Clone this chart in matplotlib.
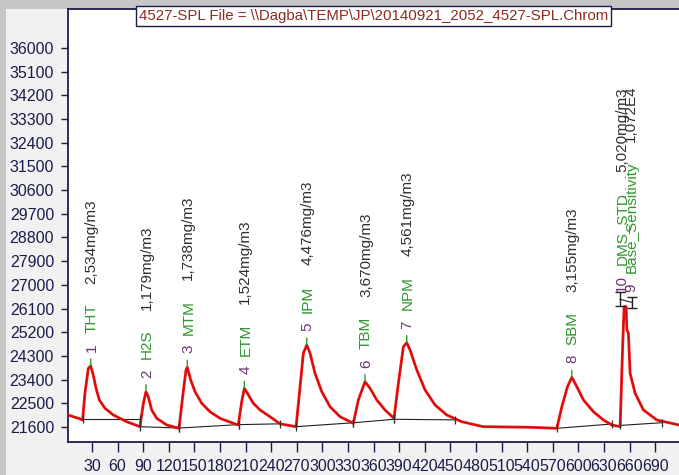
import numpy as np
import matplotlib
matplotlib.use("Agg")
import matplotlib.pyplot as plt
from matplotlib.patches import Rectangle

plt.rcParams['font.family'] = ['Liberation Sans', 'DejaVu Sans']

# chromatogram trace (time, signal)
trace_t = [2, 14, 19, 21.8, 25.7, 28.5, 31.5, 34.7, 38.6, 45.3, 55, 70.7, 86.3,
           90.2, 93.3, 96, 100, 105.9, 117.6, 132,
           136.3, 140.2, 141.7, 145.7, 150.8, 158.6, 168.3, 180, 195.7, 201.5,
           205.5, 208.6, 213.3, 219.1, 227, 238.7, 250.4, 269.2,
           273.9, 277.7, 281.7, 285.6, 291.4, 299.3, 309, 320.7, 336.3,
           342.2, 350, 355.9, 363.8, 373.5, 384,
           389.1, 395, 398.9, 402.8, 410.7, 420.4, 432.1, 445.8, 463.4, 488.7,
           543.6, 574.8, 580.7, 587.3, 592.4, 598.3, 606, 617.7, 629.4, 639.2, 649,
           652.2, 653.7, 656, 656.9, 658.7, 660.7, 666.6, 676.3, 692, 718]
trace_v = [22056, 21930, 21866, 22892, 23830, 23918, 23576, 23082, 22626, 22310, 22056, 21800, 21612,
           22500, 22941, 22751, 22246, 21930, 21676, 21550,
           22751, 23766, 23868, 23386, 22941, 22500, 22181, 21930, 21740, 21676,
           22561, 23070, 22816, 22500, 22246, 21991, 21720, 21612,
           23131, 24400, 24715, 24400, 23640, 22941, 22371, 21991, 21740,
           22626, 23321, 23070, 22626, 22246, 21930,
           23260, 24651, 24803, 24526, 23766, 23006, 22436, 22056, 21800, 21612,
           21589, 21550, 22371, 23131, 23488, 23131, 22626, 22181, 21866, 21676, 21612,
           24905, 26171, 26171, 25285, 25160, 23640, 22880, 22246, 21866, 21676]

# integration baselines (start/end of each segment)
base_t0 = [19, 86, 132, 202, 269, 336, 384, 575, 649]
base_v0 = [21893, 21612, 21560, 21690, 21612, 21760, 21893, 21550, 21660]
base_t1 = [86, 132, 202, 250, 336, 384, 456, 639, 698]
base_v1 = [21893, 21560, 21690, 21720, 21760, 21893, 21870, 21714, 21763]

# peak labels
peak_num = ['1', '2', '3', '4', '5', '6', '7', '8', '10', '9']
peak_name = ['THT', 'H2S', 'MTM', 'ETM', 'IPM', 'TBM', 'NPM', 'SBM', 'DMS_STD', 'Base_Sensitivity']
peak_conc = ['2,534mg/m3', '1,179mg/m3', '1,738mg/m3', '1,524mg/m3', '4,476mg/m3',
             '3,670mg/m3', '4,561mg/m3', '3,155mg/m3', '5,020mg/m3', '1,072E4']
label_t = [28.5, 93.3, 141.7, 208.6, 281.7, 350, 398.9, 592.4, 650, 661]
label_v = [23918, 22941, 23868, 23070, 24715, 23321, 24803, 23488, 26200, 26200]

# the two I-shaped markers on peak 9/10
imark_t = [649, 663]
imark_v = [26450, 26330]
imark_err = [260, 220]

title = r'4527-SPL File = \\Dagba\TEMP\JP\20140921_2052_4527-SPL.Chrom'

navy = '#1c1c4a'
fig = plt.figure(figsize=(6.79, 4.75), dpi=100, facecolor='#c6c6c6')
panel = Rectangle((6 / 679, 0), 1, (475 - 9) / 475, transform=fig.transFigure,
                  facecolor='#f1f1f1', edgecolor='none', zorder=-10)
fig.add_artist(panel)
ax = fig.add_axes([68 / 679, 33 / 475, 1 - 68 / 679, (442 - 9) / 475])
ax.set_zorder(1)
ax.set_facecolor('white')

ax.plot(trace_t, trace_v, color='#ee1111', lw=2.0, solid_joinstyle='round', zorder=3)
ax.plot(trace_t, trace_v, color='#3a0000', lw=0.5, dashes=(1, 1.6), alpha=0.7, zorder=4)

for t0, v0, t1, v1 in zip(base_t0, base_v0, base_t1, base_v1):
    ax.plot([t0, t1], [v0, v1], color='#202020', lw=0.8, zorder=2)
    ax.plot([t0, t1], [v0, v1], ls='none', marker='|', ms=6, mew=0.9, color='#303030', zorder=5)

ax.errorbar(imark_t, imark_v, yerr=imark_err, fmt='none', ecolor='#202020',
            elinewidth=1, capsize=3.5, capthick=1, zorder=6)
ax.plot(imark_t, imark_v, color='#202020', lw=0.8, zorder=6)

ax.set_xlim(1.9, 718)
ax.set_ylim(21030, 37480)
ax.set_xticks(np.arange(30, 691, 30))
ax.set_yticks(np.arange(21600, 36001, 900))
ax.tick_params(axis='x', direction='out', length=7, width=1, pad=5, colors=navy, labelsize=11.5)
ax.tick_params(axis='y', direction='out', length=5, width=1, pad=5, colors=navy, labelsize=11.5)
for side in ['left', 'bottom', 'top']:
    ax.spines[side].set_color(navy)
    ax.spines[side].set_linewidth(1.3)
ax.spines['right'].set_visible(False)

fig.canvas.draw()
rend = fig.canvas.get_renderer()


def text_height(s, size):
    t = ax.text(0, 0, s, fontsize=size)
    w = t.get_window_extent(rend).width
    t.remove()
    return w


fs = 11
for i in range(len(peak_num)):
    if i < 8:
        # small green apex marker
        ax.annotate('', xy=(label_t[i], label_v[i]), xytext=(0, 7), textcoords='offset pixels',
                    arrowprops=dict(arrowstyle='-', color='#2a9a2a', lw=1, shrinkA=0, shrinkB=0))
    off = 14
    parts = [(peak_num[i], '#6e3470'), (peak_name[i], '#2f952f'), (peak_conc[i], '#303030')]
    gaps = [10, 20, 0]
    for (s, c), g in zip(parts, gaps):
        ax.annotate(s, xy=(label_t[i], label_v[i]), xytext=(1, off), textcoords='offset pixels',
                    rotation=90, rotation_mode='anchor', ha='left', va='center',
                    fontsize=fs, color=c, zorder=7)
        off += text_height(s, fs) + g

ax.text(0.5, 1.0, title, transform=ax.transAxes, ha='center', va='top', fontsize=10.8,
        color='#8e2a22', zorder=10,
        bbox=dict(boxstyle='square,pad=0.18', facecolor='white', edgecolor=navy, lw=1))

fig.savefig('out.png', dpi=100, facecolor=fig.get_facecolor())
